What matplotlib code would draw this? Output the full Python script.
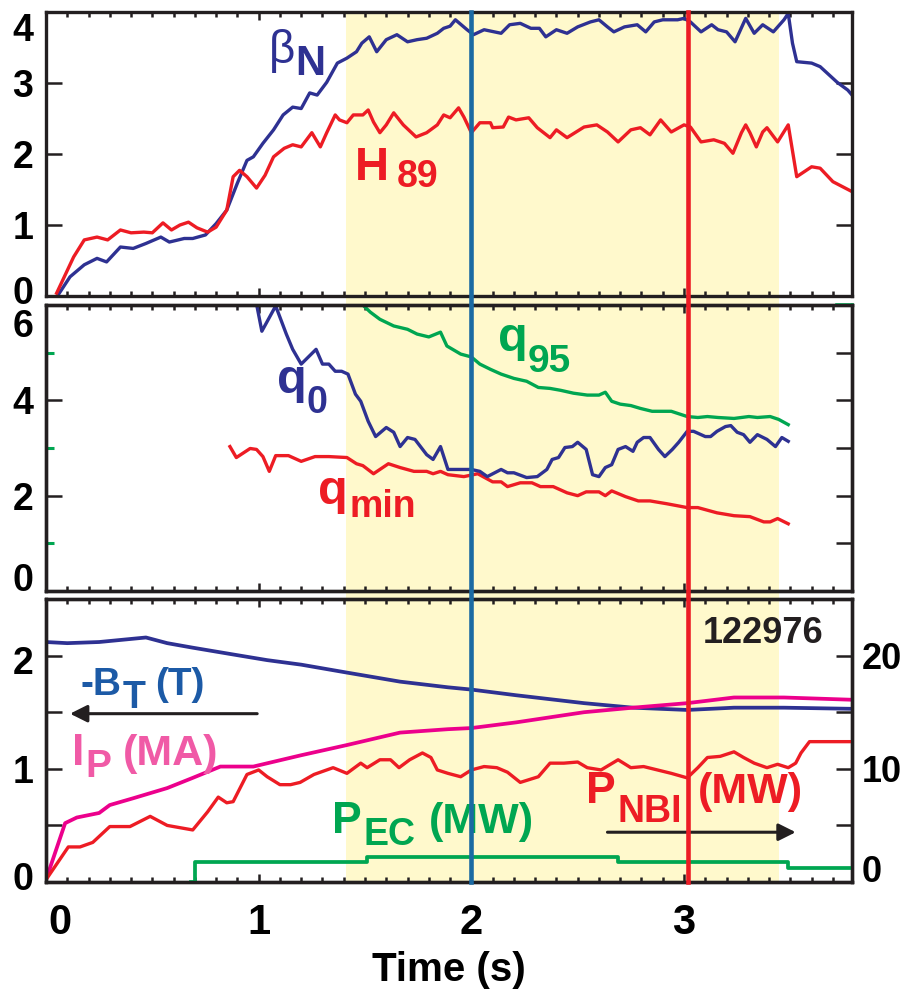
import matplotlib
matplotlib.use('Agg')
import matplotlib.pyplot as plt
from matplotlib.patches import Rectangle
from matplotlib.lines import Line2D
from matplotlib.ticker import MultipleLocator
from matplotlib.transforms import blended_transform_factory, ScaledTranslation

plt.rcParams['font.family'] = ['Liberation Sans', 'DejaVu Sans']
plt.rcParams['font.weight'] = 'bold'
plt.rcParams['axes.labelweight'] = 'bold'

NAVY = '#2e3192'
RED = '#ed1c24'
GREEN = '#00a651'
MAGENTA = '#ec008c'
PINK = '#f05aa6'
BLUE = '#1c5aa6'
VBLUE = '#1b6aa3'
YELLOW = '#fff9cc'
INK = '#231f20'

# shot 122976 -- time windows and markers (s)
shade = (1.41, 3.445)
t_marks = [2.0, 3.02]

# top panel: beta_N and H89
bn_t = [0.056, 0.113, 0.18, 0.24, 0.285, 0.35, 0.41, 0.47, 0.54, 0.58,
        0.65, 0.69, 0.75, 0.80, 0.85, 0.90, 0.945, 0.975, 1.02, 1.07,
        1.115, 1.16, 1.20, 1.24, 1.275, 1.32, 1.37, 1.415, 1.46, 1.485,
        1.52, 1.555, 1.60, 1.65, 1.70, 1.745, 1.79, 1.84, 1.87, 1.90,
        1.925, 1.98, 2.01, 2.06, 2.14, 2.18, 2.23, 2.28, 2.32, 2.35,
        2.40, 2.45, 2.50, 2.56, 2.60, 2.64, 2.67, 2.72, 2.78, 2.82,
        2.86, 2.90, 2.97, 3.00, 3.03, 3.08, 3.13, 3.16, 3.20, 3.24,
        3.29, 3.33, 3.37, 3.42, 3.47, 3.49, 3.51, 3.53, 3.60, 3.64,
        3.72, 3.77, 3.79]
bn_v = [0.01, 0.27, 0.44, 0.53, 0.48, 0.69, 0.67, 0.74, 0.83, 0.76,
        0.81, 0.81, 0.86, 1.02, 1.21, 1.59, 1.91, 1.96, 2.15, 2.34,
        2.55, 2.66, 2.64, 2.86, 2.83, 3.01, 3.28, 3.35, 3.44, 3.56,
        3.65, 3.44, 3.61, 3.68, 3.58, 3.61, 3.63, 3.70, 3.77, 3.80,
        3.89, 3.75, 3.68, 3.75, 3.70, 3.82, 3.84, 3.77, 3.77, 3.65,
        3.75, 3.70, 3.79, 3.86, 3.89, 3.79, 3.72, 3.79, 3.82, 3.72,
        3.86, 3.89, 3.89, 3.91, 3.86, 3.72, 3.82, 3.75, 3.72, 3.58,
        3.91, 3.70, 3.82, 3.72, 3.89, 3.98, 3.56, 3.30, 3.28, 3.23,
        3.01, 2.90, 2.83]

h89_t = [0.05, 0.13, 0.18, 0.24, 0.29, 0.35, 0.40, 0.46, 0.50, 0.55,
         0.59, 0.63, 0.67, 0.71, 0.76, 0.80, 0.85, 0.88, 0.91, 0.945,
         0.99, 1.03, 1.07, 1.12, 1.16, 1.20, 1.25, 1.29, 1.32, 1.36,
         1.38, 1.415, 1.445, 1.49, 1.515, 1.54, 1.57, 1.60, 1.635, 1.68,
         1.74, 1.79, 1.84, 1.87, 1.90, 1.94, 1.965, 2.00, 2.04, 2.09,
         2.10, 2.15, 2.175, 2.21, 2.27, 2.31, 2.37, 2.40, 2.45, 2.53,
         2.59, 2.64, 2.69, 2.75, 2.795, 2.84, 2.89, 2.94, 3.00, 3.03,
         3.08, 3.14, 3.19, 3.23, 3.27, 3.29, 3.31, 3.34, 3.37, 3.39,
         3.44, 3.49, 3.53, 3.60, 3.64, 3.70, 3.79]
h89_v = [0.04, 0.55, 0.79, 0.83, 0.79, 0.93, 0.89, 0.90, 0.89, 1.03,
         0.93, 1.00, 1.04, 0.96, 0.90, 0.97, 1.21, 1.68, 1.77, 1.68,
         1.52, 1.70, 1.96, 2.08, 2.13, 2.10, 2.30, 2.10, 2.30, 2.55,
         2.48, 2.44, 2.55, 2.55, 2.62, 2.45, 2.30, 2.41, 2.58, 2.41,
         2.24, 2.30, 2.41, 2.55, 2.51, 2.65, 2.52, 2.30, 2.44, 2.44,
         2.37, 2.38, 2.52, 2.48, 2.51, 2.37, 2.23, 2.34, 2.23, 2.38,
         2.41, 2.31, 2.17, 2.34, 2.37, 2.27, 2.48, 2.31, 2.41, 2.38,
         2.17, 2.20, 2.15, 2.01, 2.30, 2.41, 2.30, 2.10, 2.31, 2.37,
         2.17, 2.41, 1.68, 1.82, 1.80, 1.61, 1.47]

# middle panel: safety factor
q0_t = [0.99, 1.015, 1.08, 1.13, 1.16, 1.20, 1.27, 1.30, 1.33, 1.36,
        1.39, 1.42, 1.455, 1.48, 1.515, 1.55, 1.60, 1.635, 1.665, 1.70,
        1.735, 1.79, 1.82, 1.855, 1.89, 2.00, 2.04, 2.075, 2.14, 2.17,
        2.20, 2.26, 2.31, 2.355, 2.38, 2.41, 2.44, 2.475, 2.50, 2.54,
        2.57, 2.60, 2.63, 2.66, 2.69, 2.725, 2.76, 2.78, 2.81, 2.84,
        2.88, 2.91, 2.945, 2.975, 3.015, 3.045, 3.10, 3.125, 3.155, 3.195,
        3.22, 3.25, 3.28, 3.31, 3.345, 3.39, 3.43, 3.46, 3.49]
q0_v = [6.02, 5.45, 5.98, 5.39, 5.07, 4.76, 5.07, 4.76, 4.76, 4.61,
        4.61, 4.55, 4.13, 3.98, 3.56, 3.24, 3.43, 3.33, 3.03, 3.22,
        3.18, 2.86, 2.76, 3.03, 2.55, 2.55, 2.51, 2.40, 2.55, 2.48,
        2.48, 2.38, 2.40, 2.55, 2.76, 2.80, 3.01, 3.03, 3.12, 2.97,
        2.44, 2.40, 2.59, 2.65, 2.97, 3.03, 2.93, 3.12, 3.22, 3.22,
        2.97, 2.82, 2.97, 3.12, 3.35, 3.35, 3.24, 3.24, 3.35, 3.45,
        3.47, 3.33, 3.28, 3.12, 3.28, 3.18, 3.03, 3.22, 3.14]

q95_t = [1.485, 1.525, 1.57, 1.635, 1.70, 1.745, 1.80, 1.855, 1.885, 1.95,
         2.00, 2.04, 2.09, 2.14, 2.20, 2.26, 2.315, 2.37, 2.42, 2.48,
         2.545, 2.60, 2.63, 2.66, 2.70, 2.75, 2.795, 2.85, 2.94, 3.015,
         3.065, 3.11, 3.16, 3.235, 3.305, 3.345, 3.405, 3.445, 3.49]
q95_v = [6.02, 5.85, 5.70, 5.56, 5.49, 5.39, 5.33, 5.43, 5.14, 4.97,
         4.91, 4.76, 4.65, 4.55, 4.46, 4.40, 4.27, 4.25, 4.21, 4.15,
         4.11, 4.11, 4.17, 3.98, 3.92, 3.89, 3.83, 3.77, 3.77, 3.66,
         3.64, 3.66, 3.64, 3.62, 3.66, 3.64, 3.66, 3.60, 3.49]

qmin_t = [0.865, 0.895, 0.96, 0.99, 1.02, 1.05, 1.08, 1.14, 1.20, 1.265,
          1.33, 1.415, 1.46, 1.49, 1.54, 1.61, 1.665, 1.73, 1.79, 1.82,
          1.855, 1.89, 1.965, 2.03, 2.10, 2.14, 2.17, 2.23, 2.285, 2.325,
          2.385, 2.45, 2.50, 2.54, 2.60, 2.63, 2.66, 2.725, 2.785, 2.84,
          2.92, 3.015, 3.065, 3.155, 3.235, 3.31, 3.375, 3.405, 3.44, 3.49]
qmin_v = [3.03, 2.80, 2.99, 2.97, 2.82, 2.51, 2.84, 2.84, 2.72, 2.82,
          2.82, 2.80, 2.67, 2.63, 2.46, 2.67, 2.59, 2.51, 2.51, 2.46,
          2.51, 2.44, 2.40, 2.46, 2.29, 2.29, 2.19, 2.27, 2.27, 2.19,
          2.19, 2.06, 2.00, 2.08, 2.08, 2.00, 2.10, 1.98, 1.89, 1.89,
          1.83, 1.75, 1.75, 1.64, 1.58, 1.56, 1.45, 1.45, 1.52, 1.41]

# bottom panel: field, current (left axis) and heating power (right axis, MW)
bt_t = [0.0, 0.10, 0.25, 0.47, 0.57, 0.69, 0.88, 1.04, 1.20, 1.415,
        1.665, 1.89, 2.0, 2.21, 2.53, 2.76, 3.015, 3.235, 3.47, 3.79]
bt_v = [2.12, 2.11, 2.12, 2.16, 2.11, 2.07, 2.01, 1.96, 1.92, 1.85,
        1.77, 1.72, 1.70, 1.65, 1.58, 1.54, 1.52, 1.54, 1.54, 1.53]

ip_t = [0.0, 0.09, 0.145, 0.25, 0.30, 0.41, 0.57, 0.69, 0.82, 0.975, 1.20,
        1.415, 1.665, 1.89, 2.0, 2.21, 2.53, 2.76, 3.015, 3.235, 3.47, 3.79]
ip_v = [0.02, 0.52, 0.57, 0.61, 0.68, 0.74, 0.83, 0.92, 1.02, 1.02, 1.12,
        1.21, 1.32, 1.35, 1.36, 1.41, 1.50, 1.54, 1.58, 1.63, 1.63, 1.61]

nbi_t = [0.0, 0.105, 0.16, 0.22, 0.30, 0.395, 0.49, 0.57, 0.69, 0.76,
         0.81, 0.85, 0.88, 0.945, 1.00, 1.04, 1.10, 1.15, 1.195, 1.26,
         1.35, 1.415, 1.48, 1.51, 1.57, 1.62, 1.66, 1.71, 1.77, 1.81,
         1.84, 1.89, 1.95, 2.0, 2.06, 2.12, 2.17, 2.23, 2.315, 2.37,
         2.435, 2.50, 2.545, 2.61, 2.69, 2.75, 2.81, 2.875, 2.94, 3.015,
         3.065, 3.11, 3.17, 3.235, 3.28, 3.33, 3.39, 3.44, 3.49, 3.525,
         3.55, 3.59, 3.79]
nbi_v = [0.2, 3.1, 3.1, 3.5, 4.9, 4.9, 5.8, 5.0, 4.6, 6.2,
         7.5, 7.0, 7.1, 9.5, 9.9, 9.3, 8.6, 8.6, 8.8, 9.5,
         10.1, 9.6, 10.5, 10.1, 10.8, 10.8, 10.1, 10.8, 11.4, 11.0,
         9.9, 9.6, 9.3, 9.9, 10.2, 10.1, 9.7, 8.8, 9.3, 10.5,
         10.5, 10.6, 10.1, 9.9, 10.8, 10.1, 10.2, 9.9, 9.6, 9.2,
         10.1, 11.0, 11.1, 11.5, 11.0, 10.5, 10.1, 10.4, 10.1, 10.5,
         11.4, 12.4, 12.4]

ec_t = [0.68, 0.70, 1.51, 2.69, 3.49, 3.79]
ec_v = [0.0, 1.8, 2.2, 1.8, 1.2, 1.2]

fig = plt.figure(figsize=(9.07, 9.98), dpi=100)
L, W = 0.0507, 0.8887
ax1 = fig.add_axes([L, 0.7034, W, 0.2846])
ax2 = fig.add_axes([L, 0.4078, W, 0.2866], sharex=ax1)
ax3 = fig.add_axes([L, 0.1162, W, 0.2836], sharex=ax1)
ax2r = ax2.twinx()
ax3r = ax3.twinx()

top, bottom = 0.988, 0.1162
xf = blended_transform_factory(ax3.transData, fig.transFigure)
fig.add_artist(Rectangle((shade[0], bottom), shade[1] - shade[0], top - bottom,
                         transform=xf, color=YELLOW, lw=0, zorder=-1))

lw = 2.4
ax1.plot(bn_t, bn_v, color=NAVY, lw=lw)
ax1.plot(h89_t, h89_v, color=RED, lw=lw)
ax2.plot(q95_t, q95_v, color=GREEN, lw=lw)
ax2.plot(qmin_t, qmin_v, color=RED, lw=lw)
ax2.plot(q0_t, q0_v, color=NAVY, lw=lw)
ax3.plot(bt_t, bt_v, color=NAVY, lw=2.7)
ax3.plot(ip_t, ip_v, color=MAGENTA, lw=2.7)
ax3r.plot(nbi_t, nbi_v, color=RED, lw=lw)
ax3r.plot(ec_t, ec_v, color=GREEN, lw=2.7, drawstyle='steps-post')

for ax in (ax1, ax2, ax3):
    ax.patch.set_visible(False)
    ax.set_xlim(0, 3.79)
    ax.xaxis.set_major_locator(MultipleLocator(1))
    ax.xaxis.set_minor_locator(MultipleLocator(0.1))
    ax.tick_params(axis='x', which='both', direction='in', top=True, bottom=True,
                   width=1.8, color=INK)
    ax.tick_params(axis='x', which='major', length=6)
    ax.tick_params(axis='x', which='minor', length=3.5)
    ax.tick_params(axis='y', which='major', direction='in', length=11.5, width=1.8,
                   color=INK, labelsize=27, pad=9)
for ax in (ax1, ax2, ax3, ax2r, ax3r):
    for s in ax.spines.values():
        s.set_linewidth(2.4)
        s.set_color(INK)


def nudge(lbl, dx, dy):
    # shift a tick label by (dx, dy) points
    lbl.set_transform(lbl.get_transform() + ScaledTranslation(dx / 72, dy / 72, fig.dpi_scale_trans))


ax1.tick_params(labelbottom=False)
ax2.tick_params(labelbottom=False)
ax3.tick_params(axis='x', which='major', labelsize=30, pad=15)
ax3.set_xticks([0, 1, 2, 3])
nudge(ax3.get_xticklabels()[0], 10, 0)
ax3.set_xlabel('Time (s)', fontsize=29, fontweight='bold', labelpad=6)

# top panel axes
ax1.set_ylim(0, 4)
ax1.set_yticks([0, 1, 2, 3, 4])
ax1.tick_params(axis='y', right=True)
ylab = ax1.get_yticklabels()
nudge(ylab[0], 0, 4)
nudge(ylab[-1], 0, -11)

# middle panel axes
ax2.set_ylim(0, 6)
ax2.set_yticks([0, 2, 4, 6])
ax2.set_yticks([1, 3, 5], minor=True)
ax2.tick_params(axis='y', which='minor', direction='in', length=6, width=2.2,
                color=GREEN, right=False)
ylab = ax2.get_yticklabels()
nudge(ylab[0], 0, 10)
nudge(ylab[-1], 0, -13)
ax2r.set_ylim(0, 6)
ax2r.set_yticks([1, 2, 3, 4, 5])
ax2r.tick_params(axis='y', direction='in', length=11.5, width=1.8, color=INK,
                 labelright=False)
ax2.plot([0.981, 1.0], [1.0, 1.0], transform=ax2.transAxes, color=GREEN,
         lw=2.6, clip_on=False, zorder=5)

# bottom panel axes
ax3.set_ylim(0, 2.5)
ax3.set_yticks([0, 0.5, 1, 1.5, 2])
ax3.set_yticklabels(['0', '', '1', '', '2'])
ylab = ax3.get_yticklabels()
nudge(ylab[0], 0, 4)
nudge(ylab[-1], 0, -3)
ax3r.set_ylim(0, 25)
ax3r.set_yticks([0, 5, 10, 15, 20])
ax3r.set_yticklabels(['0', '', '10', '', '20'])
ax3r.tick_params(axis='y', direction='in', length=11.5, width=1.8, color=INK,
                 labelsize=26, pad=7)
nudge(ax3r.get_yticklabels()[0], 0, 10)

# time markers run through all three panels
for tm, c in zip(t_marks, [VBLUE, RED]):
    fig.add_artist(Line2D([tm, tm], [bottom, top], transform=xf, color=c,
                          lw=3.3, zorder=3))

renderer = fig.canvas.get_renderer()


def chain(ax, x, y, pieces, color, trans=None):
    # lay out label pieces (text, size, dy, gap) one after another on a shared baseline
    trans = trans or ax.transData
    dx = 0.0
    for s, size, dy, gap, *extra in pieces:
        kw = dict(fontweight='bold')
        if extra:
            kw.update(extra[0])
        dx += gap
        off = ScaledTranslation(dx / 72, dy / 72, fig.dpi_scale_trans)
        t = ax.text(x, y, s, color=color, fontsize=size, ha='left', va='baseline',
                    transform=trans + off, **kw)
        dx += t.get_window_extent(renderer).width * 72 / fig.dpi


chain(ax1, 1.05, 3.28, [('\u03b2', 33, 0, 0, dict(fontweight='normal')), ('N', 30, -8.5, 0)], NAVY)
chain(ax1, 1.454, 1.63, [('H', 34, 0, 0), ('89', 27, -5, 5)], RED)

chain(ax2, 1.087, 4.15, [('q', 35, 0, 0), ('0', 27, -14, 0)], NAVY)
chain(ax2, 2.127, 5.03, [('q', 35, 0, 0), ('95', 28, -15, 0)], GREEN)
chain(ax2, 1.28, 1.83, [('q', 35, 0, 0), ('min', 27, -9.5, 1)], RED)

t3 = ax3.transData
chain(ax3r, 0.16, 1.655, [('-B', 28, 0, 0), ('T', 27, -9.5, 1), ('(T)', 28, 0, 7)], BLUE, t3)
chain(ax3r, 0.122, 1.035, [('I', 32, 0, 0), ('P', 28, -8.6, 1), ('(MA)', 31, 0, 8)], PINK, t3)
chain(ax3r, 1.346, 0.434, [('P', 32, 0, 0), ('EC', 27, -8.6, 1), ('(MW)', 31, 0, 10)], GREEN, t3)
chain(ax3r, 2.54, 0.70, [('P', 32, 0, 0), ('NBI', 27, -13.7, 1)], RED, t3)
chain(ax3r, 3.063, 0.70, [('(MW)', 31, 0, 0)], RED, t3)
ax3r.text(3.656, 2.115, '122976', color=INK, fontsize=26, fontweight='bold',
          ha='right', va='baseline', transform=t3)

arrow = dict(arrowstyle='-|>', color=INK, lw=2.2, mutation_scale=26, shrinkA=0, shrinkB=0)
ax3.annotate('', xy=(0.113, 1.487), xytext=(0.993, 1.487), arrowprops=arrow)
ax3r.annotate('', xy=(3.525, 4.4), xytext=(2.64, 4.4), arrowprops=arrow)

fig.savefig('out.png', dpi=100)
